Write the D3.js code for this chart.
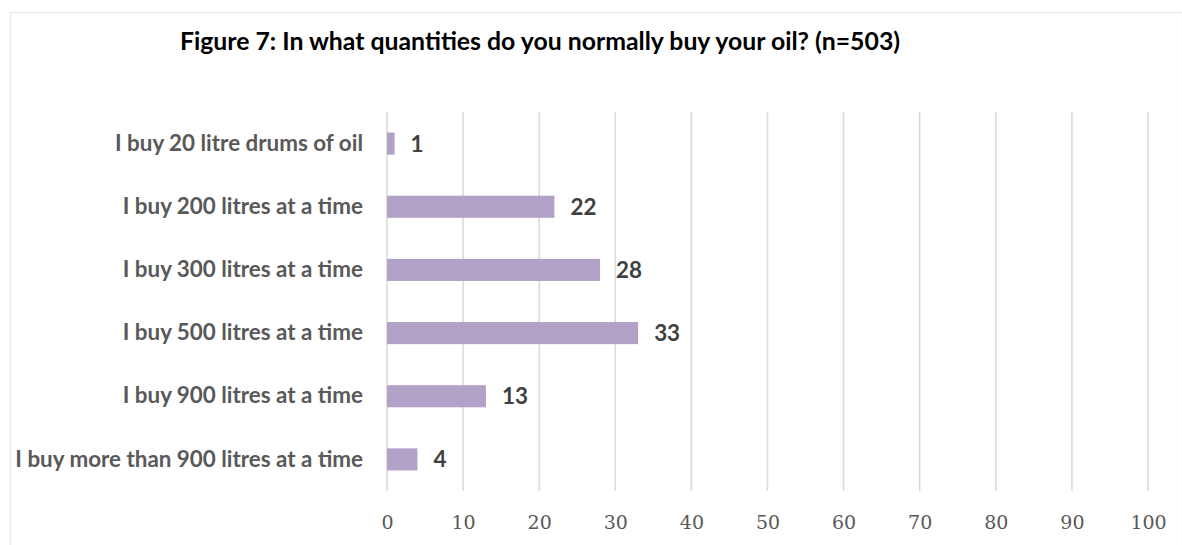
<!DOCTYPE html>
<html>
<head>
<meta charset="utf-8">
<script src="https://cdn.jsdelivr.net/npm/d3@7/dist/d3.min.js"></script>
<style>
  html, body { margin: 0; padding: 0; background: #ffffff; }
  svg { display: block; }
</style>
</head>
<body>
<script>
// Survey responses: purchase quantity of oil (percent of respondents)
const categories = [
  "I buy 20 litre drums of oil",
  "I buy 200 litres at a time",
  "I buy 300 litres at a time",
  "I buy 500 litres at a time",
  "I buy 900 litres at a time",
  "I buy more than 900 litres at a time"
];
const values = [1, 22, 28, 33, 13, 4];
const tickValues = [0, 10, 20, 30, 40, 50, 60, 70, 80, 90, 100];
const title = "Figure 7: In what quantities do you normally buy your oil? (n=503)";

const W = 1182, H = 545;
const plot = { left: 387, right: 1148, top: 112, bottom: 491 };
const sans = "Lato, 'Open Sans', sans-serif";

const svg = d3.select("body").append("svg")
  .attr("width", W).attr("height", H);

// chart frame
svg.append("rect")
  .attr("x", 10.5).attr("y", 12.5)
  .attr("width", W - 10).attr("height", H)
  .attr("fill", "#ffffff")
  .attr("stroke", "#ecebe1").attr("stroke-width", 1.5);

const x = d3.scaleLinear().domain([0, 100]).range([plot.left, plot.right]);
const y = d3.scaleBand().domain(categories).range([plot.top, plot.bottom]).paddingInner(0.65).paddingOuter(0.325);

// vertical gridlines
svg.append("g")
  .selectAll("line")
  .data(tickValues)
  .join("line")
  .attr("x1", d => x(d)).attr("x2", d => x(d))
  .attr("y1", plot.top).attr("y2", plot.bottom)
  .attr("stroke", "#d9d9d9").attr("stroke-width", 1.5);

// x axis labels
const xAxis = d3.axisBottom(x).tickValues(tickValues).tickSize(0).tickPadding(0);
const gx = svg.append("g")
  .attr("transform", `translate(0,${plot.bottom})`)
  .call(xAxis);
gx.select(".domain").remove();
gx.selectAll("text")
  .attr("dy", 0).attr("y", 38)
  .attr("fill", "#595959")
  .style("font-family", "'DejaVu Serif', serif")
  .style("font-size", "19px");

// category labels
const gy = svg.append("g")
  .attr("transform", `translate(${plot.left},0)`)
  .call(d3.axisLeft(y).tickSize(0).tickPadding(24));
gy.select(".domain").remove();
gy.selectAll("text")
  .attr("fill", "#595959")
  .style("font-family", sans)
  .style("font-weight", "700")
  .style("font-size", "22.4px");

// bars
svg.append("g")
  .selectAll("rect")
  .data(values)
  .join("rect")
  .attr("x", x(0))
  .attr("y", (d, i) => y(categories[i]))
  .attr("width", d => x(d) - x(0))
  .attr("height", y.bandwidth())
  .attr("fill", "#b3a2c7");

// value labels
svg.append("g")
  .selectAll("text")
  .data(values)
  .join("text")
  .attr("x", d => x(d) + 16)
  .attr("y", (d, i) => y(categories[i]) + y.bandwidth() / 2)
  .attr("dy", "0.36em")
  .attr("fill", "#404040")
  .style("font-family", sans)
  .style("font-weight", "700")
  .style("font-size", "22.4px")
  .text(d => d);

// title
svg.append("text")
  .attr("x", 540).attr("y", 50)
  .attr("text-anchor", "middle")
  .attr("fill", "#000000")
  .style("font-family", sans)
  .style("font-weight", "700")
  .style("font-size", "24.8px")
  .text(title);
</script>
</body>
</html>
